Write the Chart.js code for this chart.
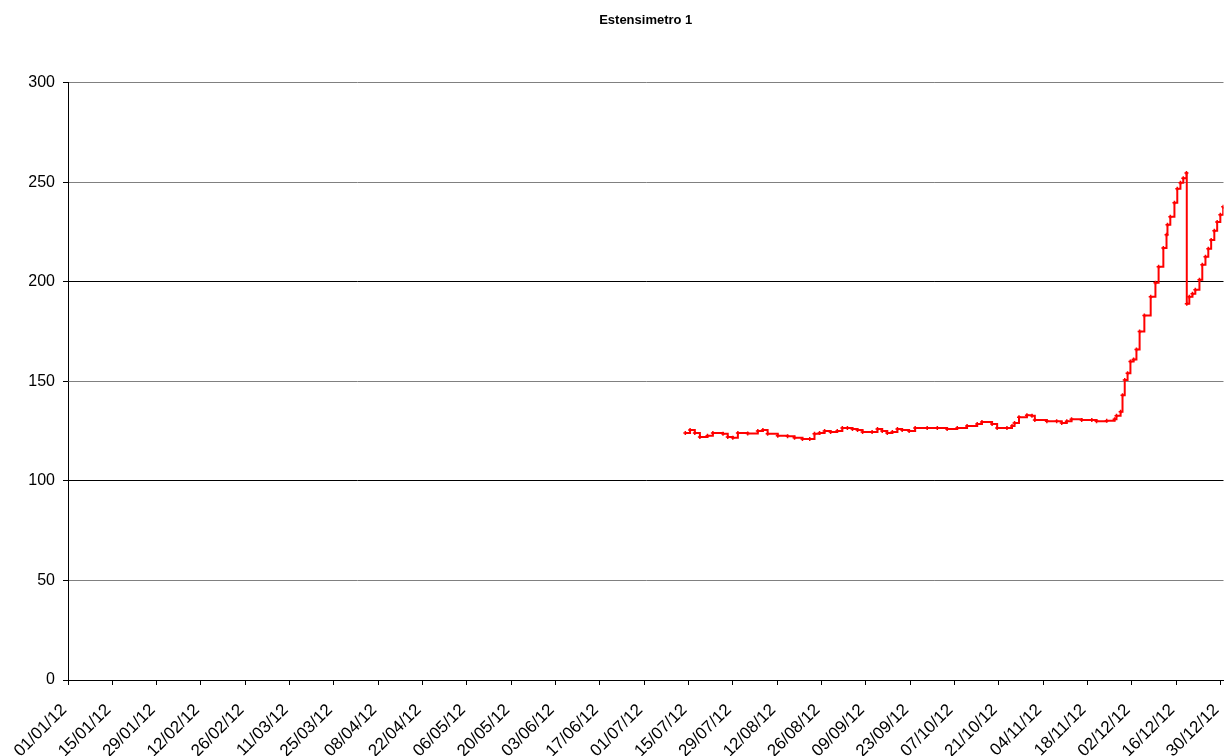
<!DOCTYPE html>
<html>
<head>
<meta charset="utf-8">
<script src="https://cdn.jsdelivr.net/npm/chart.js@4"></script>
<style>
html,body{margin:0;padding:0;background:#fff;}
#wrap{width:1229px;height:756px;position:relative;}
</style>
</head>
<body>
<div id="wrap"><canvas id="c" width="1229" height="756"></canvas></div>
<script>
// days since 01/01/2012 (fractional)
const sampleDays = [195,196.5,198,199.6,202,203.7,206.9,208.4,210,211.6,214.7,217.9,219.5,221,224.2,227.3,229.5,232,234.3,235.8,237.4,239,240.9,243,244.6,246.2,247.8,249.4,251,254,255.7,257.2,258.8,260.4,262,263.5,265.7,267.6,271.4,274.6,277.7,280.9,284,287.2,288.7,291.9,293.5,296.6,298.2,299,300.4,302.9,304.5,305.4,309.2,312.3,313.9,315.5,317,320.2,323.4,324.9,328.1,330.6,331.2,332.5,333.1,333.8,334.7,335.6,336.6,337.5,338.5,340,342,343.5,344.5,346,347,347.3,348.2,349.5,350.4,351.4,352.3,353.3,353.4,354.2,355.2,356.1,357.4,358.3,359.3,360.2,361.1,362.1,363,364,364.9];
const strainValues = [124,125.6,124,122,122.6,124,123.6,122,121.6,124,123.8,125,125.6,123.6,122.6,122.4,121.6,121,121,123.6,124,125,124.6,125,126.6,126.6,126.1,125.6,124.6,124.6,126.1,125,124,124.6,126,125.6,125,126.6,126.6,126.6,126.1,126.6,127.6,128.6,129.6,128.6,126.6,126.6,127.5,129,132,133,132.7,130.6,130,130,129,130,131,130.6,130.6,130,130.2,131,132.7,134.7,143,150.7,154,160,161,166,175,183,192.5,199.5,207.5,217,223.6,228.6,232.6,239.7,246.7,249.7,252,254.6,189,192.5,194,196,201,208.5,212.6,216.6,221,225.6,230,233.6,237.7];
const tickLabels = ['01/01/12','15/01/12','29/01/12','12/02/12','26/02/12','11/03/12','25/03/12','08/04/12','22/04/12','06/05/12','20/05/12','03/06/12','17/06/12','01/07/12','15/07/12','29/07/12','12/08/12','26/08/12','09/09/12','23/09/12','07/10/12','21/10/12','04/11/12','18/11/12','02/12/12','16/12/12','30/12/12'];
const yTicks = [0,50,100,150,200,250,300];

const points = sampleDays.map((d,i)=>({x:d,y:strainValues[i]}));
const FONT = 'Liberation Sans, Arial, sans-serif';

new Chart(document.getElementById('c'), {
  type: 'line',
  data: {
    datasets: [{
      label: 'Estensimetro 1',
      data: points,
      borderColor: '#ff0000',
      backgroundColor: '#ff0000',
      borderWidth: 2,
      stepped: true,
      pointStyle: 'cross',
      pointRadius: 2,
      pointBorderWidth: 1.5,
      pointBorderColor: '#ff0000',
      fill: false
    }]
  },
  options: {
    responsive: false,
    animation: false,
    layout: { padding: { left: 0, right: -3, top: 0, bottom: 0 } },
    plugins: {
      legend: { display: false },
      tooltip: { enabled: false },
      title: {
        display: true,
        text: 'Estensimetro 1',
        fullSize: false,
        color: '#000',
        font: { family: FONT, size: 13, weight: 'bold' },
        padding: { top: 13, bottom: 54 }
      }
    },
    scales: {
      x: {
        type: 'linear',
        min: 0,
        max: 365,
        afterFit: s => { s.height = 76; s.paddingLeft = 0; s.paddingRight = 0; },
        border: { display: true, color: '#000', width: 1 },
        grid: { drawOnChartArea: false, drawTicks: true, tickLength: 5, tickColor: '#000' },
        ticks: {
          stepSize: 14,
          includeBounds: false,
          autoSkip: false,
          maxRotation: 45,
          minRotation: 45,
          padding: 15,
          labelOffset: -4,
          color: '#000',
          font: { family: FONT, size: 17 },
          callback: (v, i) => tickLabels[Math.round(v/14)] || ''
        }
      },
      y: {
        min: 0,
        max: 300,
        afterFit: s => { s.width = 68; },
        afterBuildTicks: s => { s.ticks = yTicks.map(v=>({value:v})); },
        border: { display: true, color: '#000', width: 1 },
        grid: {
          color: c => (c.tick && (c.tick.value === 100 || c.tick.value === 200)) ? '#000' : '#808080',
          lineWidth: 1,
          tickLength: 5,
          tickColor: '#000'
        },
        ticks: {
          color: '#000',
          padding: 8,
          font: { family: FONT, size: 16 }
        }
      }
    }
  }
});
</script>
</body>
</html>
